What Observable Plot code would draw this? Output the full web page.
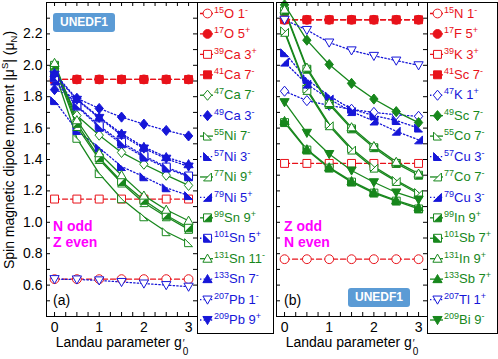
<!DOCTYPE html>
<html><head><meta charset="utf-8">
<script src="https://cdn.jsdelivr.net/npm/d3@7"></script>
<script src="https://cdn.jsdelivr.net/npm/@observablehq/plot@0.6"></script>
<style>
body{margin:0;background:#fff;}
#c{position:relative;width:498px;height:359px;font-family:"Liberation Sans",Arial,Helvetica,sans-serif;overflow:hidden;background:#fff;}
#c svg{position:absolute;}
.t{position:absolute;white-space:nowrap;color:#000;}
.yt{left:9px;top:150px;font-size:14px;line-height:16px;transform:translate(-50%,-50%) rotate(-90deg);}
.yt sup,.yt sub{font-size:9.5px;line-height:0;}
.yt sup{vertical-align:6px;}
.yt sub{vertical-align:-3px;}
.xt{top:334px;font-size:14px;line-height:16px;transform:translateX(-50%);}
.gs{display:inline-flex;flex-direction:column;font-size:10px;line-height:8px;margin-left:1px;vertical-align:baseline;}
.badge{position:absolute;background:#5b9bd5;color:#fff;font-weight:bold;font-size:12px;border-radius:3px;text-align:center;line-height:19px;width:62px;height:19px;}
.mg{position:absolute;color:#f0f;font-weight:bold;font-size:14px;line-height:15.5px;}
.pl{position:absolute;font-size:14px;line-height:16px;top:292px;}
</style></head><body><div id="c"></div>
<script>
// ---------- data ----------
const gValues = [0, 0.5, 1, 1.5, 2, 2.5, 3];
const yTickLabels = [0.6, 0.8, 1.0, 1.2, 1.4, 1.6, 1.8, 2.0, 2.2];
const xTickLabels = [0, 1, 2, 3];

// Panel (a): N odd, Z even
const massA = [15, 17, 39, 41, 47, 49, 55, 57, 77, 79, 99, 101, 131, 133, 207, 209];
const elemA = ["O", "O", "Ca", "Ca", "Ca", "Ca", "Ni", "Ni", "Ni", "Ni", "Sn", "Sn", "Sn", "Sn", "Pb", "Pb"];
const spinA = ["1", "5", "3", "7", "7", "3", "7", "3", "9", "5", "9", "5", "11", "7", "1", "9"];
const parityA = ["-", "+", "+", "-", "-", "-", "-", "-", "+", "+", "+", "+", "-", "-", "-", "+"];
const a15O  = [0.638, 0.638, 0.638, 0.638, 0.638, 0.638, 0.638];
const a17O  = [1.91, 1.91, 1.91, 1.91, 1.91, 1.91, 1.91];
const a39Ca = [1.148, 1.148, 1.148, 1.148, 1.148, 1.148, 1.148];
const a41Ca = [1.91, 1.91, 1.91, 1.91, 1.91, 1.91, 1.91];
const a47Ca = [1.98, 1.68, 1.555, 1.445, 1.37, 1.30, 1.235];
const a49Ca = [1.845, 1.79, 1.725, 1.67, 1.625, 1.585, 1.55];
const a55Ni = [1.96, 1.535, 1.31, 1.15, 1.035, 0.94, 0.87];
const a57Ni = [1.775, 1.585, 1.475, 1.355, 1.29, 1.22, 1.17];
const a77Ni = [1.99, 1.61, 1.40, 1.25, 1.125, 1.035, 0.955];
const a79Ni = [1.90, 1.74, 1.605, 1.50, 1.415, 1.345, 1.29];
const a99Sn = [2.00, 1.63, 1.41, 1.26, 1.14, 1.045, 0.965];
const a101Sn = [1.92, 1.745, 1.615, 1.51, 1.425, 1.352, 1.295];
const a131Sn = [2.015, 1.65, 1.44, 1.30, 1.17, 1.08, 1.01];
const a133Sn = [1.95, 1.785, 1.67, 1.565, 1.48, 1.415, 1.37];
const a207Pb = [0.638, 0.636, 0.63, 0.62, 0.61, 0.60, 0.59];
const a209Pb = [1.94, 1.78, 1.665, 1.555, 1.47, 1.405, 1.355];

// Panel (b): Z odd, N even
const massB = [15, 17, 39, 41, 47, 49, 55, 57, 77, 79, 99, 101, 131, 133, 207, 209];
const elemB = ["N", "F", "K", "Sc", "K", "Sc", "Co", "Cu", "Co", "Cu", "In", "Sb", "In", "Sb", "Tl", "Bi"];
const spinB = ["1", "5", "3", "7", "1", "7", "7", "3", "7", "3", "9", "7", "9", "7", "1", "9"];
const parityB = ["-", "+", "+", "-", "+", "-", "-", "-", "-", "-", "+", "+", "+", "+", "+", "-"];
const b15N  = [0.765, 0.765, 0.765, 0.765, 0.765, 0.765, 0.765];
const b17F  = [2.29, 2.29, 2.29, 2.29, 2.29, 2.29, 2.29];
const b39K  = [1.375, 1.375, 1.375, 1.375, 1.375, 1.375, 1.375];
const b41Sc = [2.29, 2.29, 2.29, 2.29, 2.29, 2.29, 2.29];
const b47K  = [1.835, 1.775, 1.745, 1.72, 1.70, 1.685, 1.675];
const b49Sc = [2.385, 2.16, 2.005, 1.885, 1.785, 1.705, 1.635];
const b55Co = [2.22, 1.85, 1.625, 1.47, 1.355, 1.267, 1.19];
const b57Cu = [2.08, 1.91, 1.805, 1.72, 1.68, 1.648, 1.60];
const b77Co = [2.21, 1.84, 1.615, 1.46, 1.345, 1.26, 1.18];
const b79Cu = [2.02, 1.88, 1.785, 1.705, 1.645, 1.58, 1.525];
const b99In = [2.345, 1.975, 1.75, 1.595, 1.475, 1.375, 1.30];
const b101Sb = [1.635, 1.46, 1.345, 1.256, 1.186, 1.135, 1.085];
const b131In = [2.355, 1.985, 1.76, 1.605, 1.485, 1.385, 1.31];
const b133Sb = [1.645, 1.465, 1.35, 1.262, 1.192, 1.14, 1.095];
const b207Tl = [2.29, 2.225, 2.145, 2.095, 2.06, 2.03, 2.0];
const b209Bi = [1.765, 1.57, 1.435, 1.33, 1.255, 1.19, 1.145];

const seriesA = [a15O, a17O, a39Ca, a41Ca, a47Ca, a49Ca, a55Ni, a57Ni, a77Ni, a79Ni, a99Sn, a101Sn, a131Sn, a133Sn, a207Pb, a209Pb];
const seriesB = [b15N, b17F, b39K, b41Sc, b47K, b49Sc, b55Co, b57Cu, b77Co, b79Cu, b99In, b101Sb, b131In, b133Sb, b207Tl, b209Bi];

// ---------- styles ----------
const groupA = ["r","r","r","r","g","b","g","b","g","b","g","b","g","b","b","b"];
const groupB = ["r","r","r","r","b","g","g","b","g","b","g","g","g","g","b","g"];
const markerSpec = [["circle","open"],["circle","solid"],["square","open"],["square","solid"],["diamond","open"],["diamond","solid"],
  ["rtL","open"],["rtL","solid"],["rtR","open"],["rtR","solid"],["rtR","half"],["rtL","half"],["up","open"],["up","solid"],["down","open"],["down","solid"]];
const COLORS = {r: "#e8121a", g: "#17871c", b: "#1616d8"};
const DASH = {r: "5,3", g: undefined, b: "1.4,2.2"};
const FONT = '"Liberation Sans", Arial, Helvetica, sans-serif';
const STYLE = {background: "transparent", overflow: "visible", fontFamily: FONT, fontSize: "14px", color: "black"};

const poly = pts => ({draw(ctx, size) {
  const h = Math.sqrt(size / Math.PI);
  ctx.moveTo(pts[0][0] * h, pts[0][1] * h);
  for (let k = 1; k < pts.length; k++) ctx.lineTo(pts[k][0] * h, pts[k][1] * h);
  ctx.closePath();
}});
const SYM = {
  circle: {draw(ctx, size) { const h = Math.sqrt(size / Math.PI); ctx.moveTo(h, 0); ctx.arc(0, 0, h, 0, 2 * Math.PI); }},
  square: poly([[-0.9,-0.9],[0.9,-0.9],[0.9,0.9],[-0.9,0.9]]),
  diamond: poly([[0,-1.15],[0.95,0],[0,1.15],[-0.95,0]]),
  up: poly([[0,-1.05],[1.05,0.8],[-1.05,0.8]]),
  down: poly([[0,1.05],[1.05,-0.8],[-1.05,-0.8]]),
  rtL: poly([[-0.9,-0.9],[0.9,0.9],[-0.9,0.9]]),
  rtR: poly([[0.9,-0.9],[0.9,0.9],[-0.9,0.9]])
};

function markerMarks(data, x, y, color, spec, r) {
  const [shape, kind] = spec;
  if (kind === "open") return [Plot.dot(data, {x, y, symbol: SYM[shape], r, fill: "white", stroke: color, strokeWidth: 1})];
  if (kind === "solid") return [Plot.dot(data, {x, y, symbol: SYM[shape], r, fill: color, stroke: color, strokeWidth: 1})];
  return [
    Plot.dot(data, {x, y, symbol: SYM.square, r, fill: "white", stroke: color, strokeWidth: 1}),
    Plot.dot(data, {x, y, symbol: SYM[shape], r, fill: color, stroke: "none"})
  ];
}

const yMinor = d3.range(5, 24).map(k => k / 10);
const xMinor = d3.range(0, 13).map(k => k / 4);

function panelPlot(series, groups, showY) {
  const W = showY ? 200 : 157, ML = showY ? 46 : 3, MR = 3, MT = 2, MB = 43, H = 359;
  const fw = W - ML - MR, fh = H - MT - MB;
  const lines = [], dots = [];
  series.forEach((vals, i) => {
    const data = gValues.map((g, k) => ({g, mu: vals[k]}));
    const c = COLORS[groups[i]];
    lines.push(Plot.line(data, {x: "g", y: "mu", stroke: c, strokeWidth: 1.3, strokeDasharray: DASH[groups[i]]}));
    dots.push(...markerMarks(data, "g", "mu", c, markerSpec[i], 4.4));
  });
  const marks = [
    Plot.tickY(yMinor, {insetRight: fw - 4}),
    Plot.tickY(yMinor, {insetLeft: fw - 4}),
    Plot.tickX(xMinor, {insetTop: fh - 4}),
    Plot.tickX(xMinor, {insetBottom: fh - 4}),
    Plot.axisX({ticks: xTickLabels, tickSize: 0, tickPadding: 6, tickFormat: d => String(d), label: null}),
    ...lines, ...dots,
    Plot.frame({stroke: "black"})
  ];
  if (showY) marks.push(Plot.axisY({ticks: yTickLabels, tickSize: 0, tickPadding: 4, tickFormat: d => d.toFixed(1), label: null}));
  return Plot.plot({
    width: W, height: H, marginTop: MT, marginBottom: MB, marginLeft: ML, marginRight: MR,
    x: {domain: [-0.18, 3.2]},
    y: showY ? {domain: [0.4, 2.4]} : {domain: [0.4, 2.4], axis: null},
    style: STYLE,
    marks
  });
}

function legendPlot(mass, elem, spin, parity, groups, w) {
  const marks = [];
  mass.forEach((m, i) => {
    const c = COLORS[groups[i]];
    marks.push(Plot.ruleY([i], {y: d => d, x1: () => 3, x2: () => 16, stroke: c, strokeWidth: 1.3, strokeDasharray: DASH[groups[i]]}));
    marks.push(...markerMarks([i], () => 10, d => d, c, markerSpec[i], 4.4));
    marks.push(Plot.text([i], {x: () => 16.5, y: d => d, text: () => `${m}${elem[i]} ${spin[i]}${parity[i]}`, textAnchor: "start", fill: c, fontSize: 13}));
  });
  marks.push(Plot.frame({stroke: "black"}));
  const p = Plot.plot({
    width: w, height: 331, margin: 0,
    x: {domain: [0, w], range: [0, w], axis: null},
    y: {domain: [0, 15], range: [11, 317.5], axis: null},
    style: STYLE,
    marks
  });
  p.querySelectorAll('g[aria-label="text"] text').forEach((t, i) => {
    t.innerHTML = `<tspan font-size="9" dy="-5">${mass[i]}</tspan><tspan dy="5">${elem[i]} ${spin[i]}</tspan><tspan font-size="9" dy="-5">${parity[i]}</tspan>`;
  });
  return p;
}

const root = document.getElementById("c");
function place(el, left, top) { el.style.left = left + "px"; el.style.top = top + "px"; root.appendChild(el); }

place(panelPlot(seriesA, groupA, true), 0, 0);
place(legendPlot(massA, elemA, spinA, parityA, groupA, 76), 197, 2);
place(panelPlot(seriesB, groupB, false), 273, 0);
place(legendPlot(massB, elemB, spinB, parityB, groupB, 70), 427, 2);

const gLabel = `Landau parameter g<span class="gs"><span>′</span><span>0</span></span>`;
root.insertAdjacentHTML("beforeend", `
<div class="t yt">Spin magnetic dipole moment |μ<sup>S</sup>| (μ<sub>N</sub>)</div>
<div class="t xt" style="left:122px">${gLabel}</div>
<div class="t xt" style="left:352px">${gLabel}</div>
<div class="badge" style="left:53px;top:13px">UNEDF1</div>
<div class="badge" style="left:348px;top:288px">UNEDF1</div>
<div class="mg" style="left:53px;top:219px">N odd<br>Z even</div>
<div class="mg" style="left:284px;top:219px">Z odd<br>N even</div>
<div class="pl" style="left:53px">(a)</div>
<div class="pl" style="left:284px">(b)</div>
`);
</script></body></html>
